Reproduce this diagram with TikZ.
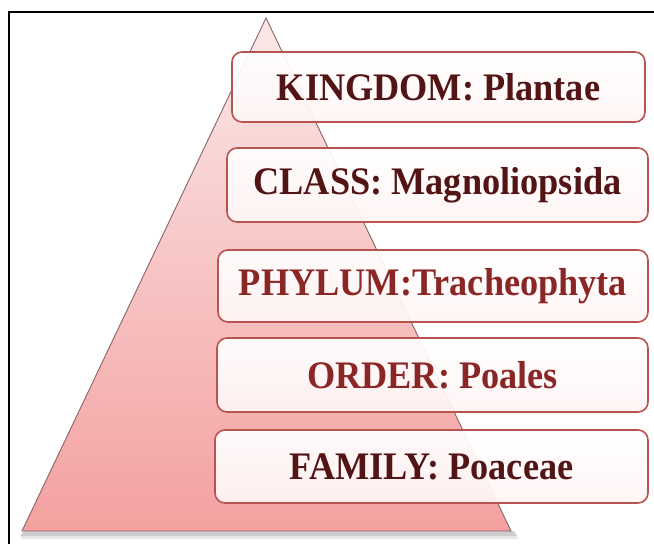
\documentclass[tikz,border=0pt]{standalone}
\usepackage{fontspec}
\setmainfont{Liberation Serif}
\newfontfamily\boxfont[FakeStretch=0.93]{Liberation Serif}
\usetikzlibrary{shadows,shadows.blur}
\definecolor{boxedge}{HTML}{B85450}
\definecolor{trtop}{HTML}{FBE8E8}
\definecolor{trbot}{HTML}{F4A0A0}
\definecolor{trline}{HTML}{8A6464}
\definecolor{txtdark}{HTML}{521414}
\definecolor{txtlight}{HTML}{8A2626}
\tikzset{
  tbox/.style={draw=boxedge, line width=1.6pt, rounded corners=10pt,
    top color=white, bottom color=red!4, fill opacity=0.93, text opacity=1,
    inner sep=0pt, font=\boxfont\fontsize{39}{42}\selectfont\bfseries},
  frameline/.style={draw=black, line width=1.1pt},
}
\begin{document}
\begin{tikzpicture}[x=1pt,y=-1pt]
\useasboundingbox (0,0) rectangle (654,544);
\fill[white] (0,0) rectangle (654,544);
% frame
\draw[frameline] (9,544) -- (9,12) -- (654,12);
% pyramid shadow
\fill[black!55, opacity=0.35] (24,531) -- (514,531) -- (517,536) -- (20,536) -- cycle;
\fill[black!45, opacity=0.2] (22,536) -- (516,536) -- (519,539) -- (20,539) -- cycle;
% pyramid
\path[top color=trtop, bottom color=trbot, draw=trline, line width=0.9pt]
  (266,18) -- (511,531) -- (22,531) -- cycle;
% boxes
\node[tbox, minimum width=413pt, minimum height=70pt, text=txtdark] (kingdom) at (438.5,87) {KINGDOM: Plantae};
\node[tbox, minimum width=421pt, minimum height=74pt, text=txtdark] (class) at (437.5,185) {CLASS: Magnoliopsida};
\node[tbox, minimum width=430pt, minimum height=72pt, text=txtlight] (phylum) at (433,286) {PHYLUM:Tracheophyta};
\node[tbox, minimum width=431pt, minimum height=74pt, text=txtlight] (order) at (432.5,375) {ORDER: Poales};
\node[tbox, minimum width=433pt, minimum height=73pt, text=txtdark] (family) at (431.5,466.5) {FAMILY: Poaceae};
\end{tikzpicture}
\end{document}
